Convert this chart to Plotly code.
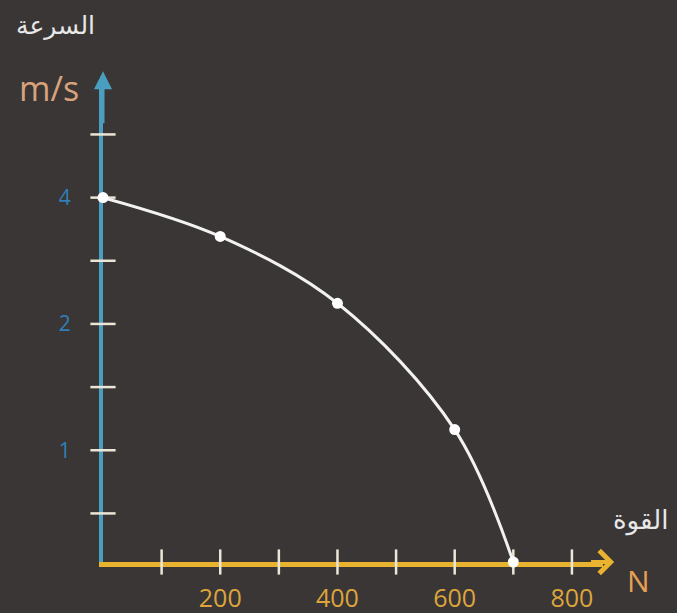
import plotly.graph_objects as go

# Data
force = [0, 200, 400, 600, 700]
speed = [3.0, 2.68, 2.13, 1.09, 0.0]

x_label_vals = [200, 400, 600, 800]
x_label_text = ["200", "400", "600", "800"]
x_tick_vals = [100, 200, 300, 400, 500, 600, 700, 800]

y_tick_vals = [0.40, 0.92, 1.44, 1.96, 2.48, 3.0, 3.52]
y_label_vals = [0.92, 1.96, 3.0]
y_label_text = ["1", "2", "4"]

BG = "#3a3635"
GOLD = "#e8b32e"
TEAL = "#4a9fc0"
TICK = "#ece6d6"

ML, MR, MT, MB = 103, 74, 81, 51
W, H = 677, 613
W_plot = W - ML - MR
H_plot = H - MT - MB

fig = go.Figure()

# tick marks crossing the axes
fig.add_trace(go.Scatter(
    x=x_tick_vals, y=[0] * len(x_tick_vals), mode="markers",
    marker=dict(symbol="line-ns", size=18, line=dict(color=TICK, width=2.5)),
    cliponaxis=False, hoverinfo="skip", showlegend=False))
fig.add_trace(go.Scatter(
    x=[0] * len(y_tick_vals), y=y_tick_vals, mode="markers",
    marker=dict(symbol="line-ew", size=18, line=dict(color=TICK, width=2.5)),
    cliponaxis=False, hoverinfo="skip", showlegend=False))

# curve
fig.add_trace(go.Scatter(
    x=force, y=speed, mode="lines+markers",
    line=dict(color="#f2f2f2", width=3, shape="spline", smoothing=1),
    marker=dict(color="#ffffff", size=11),
    cliponaxis=False, showlegend=False))


def px(xp, yp):
    # pixel position (from top-left of figure) -> paper coords
    return (xp - ML) / W_plot, (H - yp - MB) / H_plot


texts = [
    ("السرعة", 55, 26, "DejaVu Sans", 25, "#e8e8e8"),
    ("m/s", 49, 88, "Open Sans", 34, "#d9a27a"),
    ("القوة", 640, 520, "DejaVu Sans", 26, "#e8e8e8"),
    ("N", 638, 580, "Open Sans", 30, "#e6a055"),
]
annotations = [
    dict(x=0, y=4.04, ax=0, ay=3.6, xref="x", yref="y", axref="x", ayref="y",
         text="", showarrow=True, arrowhead=2, arrowsize=1.2, arrowwidth=3,
         arrowcolor=TEAL),
    dict(x=872, y=0, ax=830, ay=0, xref="x", yref="y", axref="x", ayref="y",
         text="", showarrow=True, arrowhead=4, arrowsize=1.1, arrowwidth=4,
         arrowcolor=GOLD),
]
for t, xp, yp, fam, sz, col in texts:
    xx, yy = px(xp, yp)
    annotations.append(dict(x=xx, y=yy, xref="paper", yref="paper", text=t,
                            xanchor="center", yanchor="middle", showarrow=False,
                            font=dict(family=fam, size=sz, color=col)))

fig.update_layout(
    width=W, height=H,
    margin=dict(l=ML, r=MR, t=MT, b=MB, autoexpand=False),
    paper_bgcolor=BG, plot_bgcolor=BG,
    xaxis=dict(range=[0, 853], showline=True, linecolor=GOLD, linewidth=5,
               showgrid=False, zeroline=False, ticks="", automargin=False,
               tickvals=x_label_vals, ticktext=x_label_text,
               tickfont=dict(family="Open Sans", size=25, color="#dda53c"),
               ticklabelstandoff=10, layer="below traces"),
    yaxis=dict(range=[0, 3.96], showline=True, linecolor=TEAL, linewidth=4,
               showgrid=False, zeroline=False, ticks="", automargin=False,
               tickvals=y_label_vals, ticktext=y_label_text,
               tickfont=dict(family="Open Sans", size=21, color="#2f7fb8"),
               ticklabelstandoff=24, layer="below traces"),
    annotations=annotations,
)

fig.write_html("out.html", config={"displayModeBar": False},
               post_script="document.body.style.margin='0';document.body.style.background='%s';" % BG)
